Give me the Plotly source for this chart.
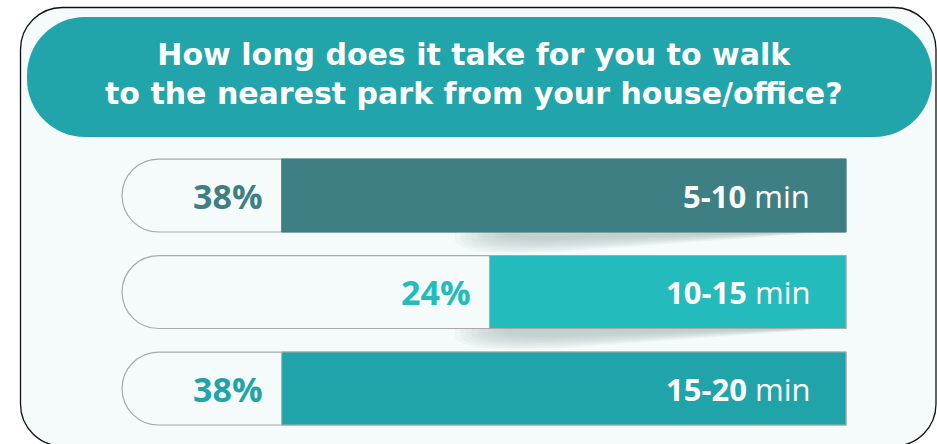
import plotly.graph_objects as go

# ---- survey data ----
RANGES = ["5-10", "10-15", "15-20"]
SHARES = [38, 24, 38]
TITLE = "How long does it take for you to walk<br>to the nearest park from your house/office?"

BAR_COLORS = ["#3d7f82", "#23bbbb", "#20a4a9"]
BAR_EDGE = ["#3d7f82", "#a9a9a9", "#a9a9a9"]
TRACK_MAX = 48.75          # full length of the rounded track, in percent units

W, H = 937, 444
CARD_BG = "#f5fbfb"
TEAL = "#21a5aa"
TITLE_FONT = "DejaVu Sans"
LABEL_FONT = "Open Sans"

# axis geometry (margins are zero, so the axes span the whole page)
X_RANGE = [56.97, -6.13]   # reversed: bars grow leftwards from the right edge
Y_RANGE = [2.575, -2.026]
BAR_W = 0.756


def x_px(v):
    return (v - X_RANGE[0]) / (X_RANGE[1] - X_RANGE[0]) * W


def y_px(i):
    return (i - Y_RANGE[1]) / (Y_RANGE[0] - Y_RANGE[1]) * H


def P(x, y):
    return f"{x / W:.5f},{1 - y / H:.5f}"


def rounded_rect(x0, y0, x1, y1, r):
    k = 0.5523 * r
    return (
        f"M {P(x0 + r, y0)} L {P(x1 - r, y0)} "
        f"C {P(x1 - r + k, y0)} {P(x1, y0 + r - k)} {P(x1, y0 + r)} "
        f"L {P(x1, y1 - r)} "
        f"C {P(x1, y1 - r + k)} {P(x1 - r + k, y1)} {P(x1 - r, y1)} "
        f"L {P(x0 + r, y1)} "
        f"C {P(x0 + r - k, y1)} {P(x0, y1 - r + k)} {P(x0, y1 - r)} "
        f"L {P(x0, y0 + r)} "
        f"C {P(x0, y0 + r - k)} {P(x0 + r - k, y0)} {P(x0 + r, y0)} Z"
    )


shapes = [
    # card
    dict(type="path", xref="paper", yref="paper", layer="below",
         path=rounded_rect(20.5, 7.5, 936, 446, 42),
         fillcolor=CARD_BG, line=dict(color="#111111", width=1.3)),
    # title banner
    dict(type="path", xref="paper", yref="paper", layer="below",
         path=rounded_rect(27, 17, 932, 137, 58),
         fillcolor=TEAL, line=dict(width=0)),
]

# soft wedge shadows beneath the upper two bars, built from thin translucent layers
for i in range(len(RANGES) - 1):
    yb = y_px(i + BAR_W / 2)
    xr = x_px(0)
    n = 10
    for j in range(n):
        t = j / (n - 1)
        xl = 455 + 50 * t
        depth = 21 - 14 * t
        path = (f"M {P(xl, yb)} L {P(xl, yb + depth * 0.45)} "
                f"Q {P(xl + 8, yb + depth)} {P(xl + 55, yb + depth)} "
                f"L {P(560, yb + depth * 0.95)} "
                f"Q {P(700, yb + depth * 0.45)} {P(xr - 20 - 30 * t, yb + 0.5)} "
                f"L {P(xr, yb)} Z")
        shapes.append(dict(type="path", xref="paper", yref="paper", layer="below",
                           path=path, fillcolor="#a7afaf", opacity=0.075, line=dict(width=0)))

fig = go.Figure()

# background track with a rounded far end
fig.add_trace(go.Bar(
    y=RANGES, x=[TRACK_MAX] * len(RANGES), orientation="h", width=BAR_W,
    marker=dict(color=CARD_BG, line=dict(color="#a9a9a9", width=1.2), cornerradius="50%"),
    hoverinfo="skip", showlegend=False,
))

# share bars
fig.add_trace(go.Bar(
    y=RANGES, x=SHARES, orientation="h", width=BAR_W,
    marker=dict(color=BAR_COLORS, line=dict(color=BAR_EDGE, width=1)),
    hoverinfo="skip", showlegend=False,
))

annotations = [
    dict(xref="paper", yref="paper", x=474 / W, y=1 - 74 / H,
         xanchor="center", yanchor="middle", showarrow=False, text=f"<b>{TITLE}</b>",
         font=dict(family=TITLE_FONT, size=30, color="white"), align="center"),
]
for cat, val, col in zip(RANGES, SHARES, BAR_COLORS):
    annotations.append(dict(
        x=val, y=cat, xanchor="right", yanchor="middle", xshift=-17, showarrow=False,
        text=f"<b>{val}%</b>", font=dict(family=LABEL_FONT, size=34, color=col)))
    annotations.append(dict(
        x=0, y=cat, xanchor="right", yanchor="middle", xshift=-34, showarrow=False,
        text=f"<b>{cat}</b> min", font=dict(family=LABEL_FONT, size=31, color="white")))

fig.update_layout(
    width=W, height=H, margin=dict(l=0, r=0, t=0, b=0),
    paper_bgcolor="white", plot_bgcolor="rgba(0,0,0,0)",
    barmode="overlay", shapes=shapes, annotations=annotations,
    xaxis=dict(range=X_RANGE, visible=False, fixedrange=True),
    yaxis=dict(range=Y_RANGE, visible=False, fixedrange=True,
               categoryorder="array", categoryarray=RANGES),
    showlegend=False,
)

fig.write_html("out.html", config=dict(displayModeBar=False))
